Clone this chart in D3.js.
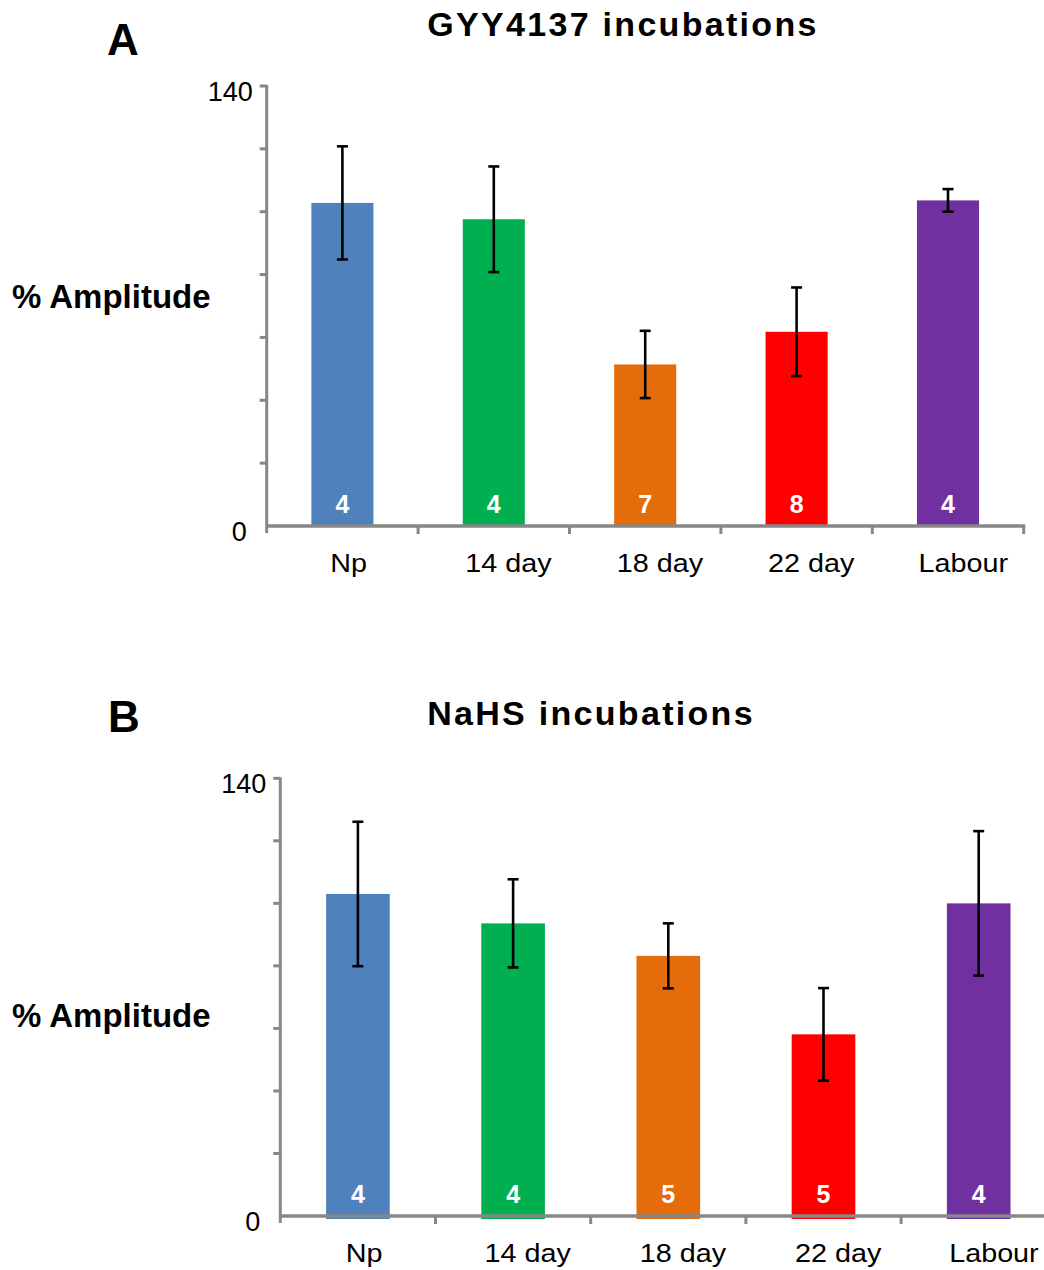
<!DOCTYPE html>
<html>
<head>
<meta charset="utf-8">
<script src="https://cdn.jsdelivr.net/npm/d3@7"></script>
<style>
  html, body { margin: 0; padding: 0; background: #fff; }
  svg { display: block; font-family: "Liberation Sans", Arial, sans-serif; }
</style>
</head>
<body>
<svg id="chart" width="1044" height="1270"></svg>
<script>
// Groups shared by both panels
const categories = ["Np", "14 day", "18 day", "22 day", "Labour"];
const barColors = ["#4F81BD", "#00B050", "#E46C0A", "#FF0000", "#7030A0"];

// GYY4137 incubations: mean % amplitude, error, n
const gyyMean = [102.8, 97.6, 51.4, 61.8, 103.6];
const gyyErr  = [18.0, 16.8, 10.7, 14.1, 3.6];
const gyyN    = [4, 4, 7, 8, 4];

// NaHS incubations: mean % amplitude, error, n
const nahsMean = [103.0, 93.6, 83.2, 58.1, 100.0];
const nahsErr  = [23.1, 14.1, 10.4, 14.8, 23.1];
const nahsN    = [4, 4, 5, 5, 4];

// Axis ticks
const yTickValues = [0, 20, 40, 60, 80, 100, 120, 140];
const yTickLabels = [0, 140];
const yMax = 140;

const svg = d3.select("#chart");
const axisGrey = "#878787";

function drawPanel(p) {
  const g = svg.append("g");
  const x = d3.scaleBand().domain(categories).range([p.x0, p.x1]).paddingInner(0).paddingOuter(0);
  const y = d3.scaleLinear().domain([0, yMax]).range([p.yBottom, p.yTop]);
  const bw = x.bandwidth() * 0.41;
  const rows = categories.map((c, i) => ({ c, v: p.mean[i], e: p.err[i], n: p.n[i], col: barColors[i] }));

  // bars
  g.selectAll("rect.bar").data(rows).join("rect")
    .attr("class", "bar")
    .attr("x", d => x(d.c) + x.bandwidth() / 2 - bw / 2)
    .attr("width", bw)
    .attr("y", d => y(d.v))
    .attr("height", d => y(0) - y(d.v) + p.barSink)
    .attr("fill", d => d.col);

  // y axis line + ticks
  g.append("line")
    .attr("x1", p.x0).attr("x2", p.x0)
    .attr("y1", y(yMax) - 1).attr("y2", y(0) + 7)
    .attr("stroke", axisGrey).attr("stroke-width", 3);
  g.selectAll("line.ytick").data(yTickValues.filter(v => v > 0)).join("line")
    .attr("class", "ytick")
    .attr("x1", p.x0 - 7).attr("x2", p.x0)
    .attr("y1", d => y(d)).attr("y2", d => y(d))
    .attr("stroke", axisGrey).attr("stroke-width", 3);

  // x axis line + category separators
  g.append("line")
    .attr("x1", p.x0).attr("x2", p.x1 + 1.5)
    .attr("y1", y(0)).attr("y2", y(0))
    .attr("stroke", axisGrey).attr("stroke-width", 3.5);
  const seps = categories.map(c => x(c) + x.bandwidth());
  g.selectAll("line.xtick").data(seps).join("line")
    .attr("class", "xtick")
    .attr("x1", d => d).attr("x2", d => d)
    .attr("y1", y(0)).attr("y2", y(0) + 8)
    .attr("stroke", axisGrey).attr("stroke-width", 3);

  // error bars
  const cap = 5.5;
  const eb = g.selectAll("g.err").data(rows).join("g").attr("class", "err")
    .attr("stroke", "#000").attr("stroke-width", 2.6);
  eb.append("line")
    .attr("x1", d => x(d.c) + x.bandwidth() / 2).attr("x2", d => x(d.c) + x.bandwidth() / 2)
    .attr("y1", d => y(d.v + d.e)).attr("y2", d => y(d.v - d.e));
  eb.append("line")
    .attr("x1", d => x(d.c) + x.bandwidth() / 2 - cap).attr("x2", d => x(d.c) + x.bandwidth() / 2 + cap)
    .attr("y1", d => y(d.v + d.e)).attr("y2", d => y(d.v + d.e));
  eb.append("line")
    .attr("x1", d => x(d.c) + x.bandwidth() / 2 - cap).attr("x2", d => x(d.c) + x.bandwidth() / 2 + cap)
    .attr("y1", d => y(d.v - d.e)).attr("y2", d => y(d.v - d.e));

  // n inside each bar
  g.selectAll("text.n").data(rows).join("text")
    .attr("class", "n")
    .attr("x", d => x(d.c) + x.bandwidth() / 2)
    .attr("y", y(0) - 13)
    .attr("text-anchor", "middle")
    .attr("font-size", 25).attr("font-weight", "bold")
    .attr("fill", "#fff")
    .text(d => d.n);

  // y tick labels
  g.selectAll("text.ylab").data(yTickLabels).join("text")
    .attr("class", "ylab")
    .attr("x", d => d === 0 ? p.x0 - 20 : p.x0 - 14)
    .attr("y", d => y(d) + 15)
    .attr("text-anchor", "end")
    .attr("font-size", 27)
    .attr("fill", "#000")
    .text(d => d);

  // category labels (wide-set)
  g.selectAll("text.cat").data(categories).join("text")
    .attr("class", "cat")
    .attr("text-anchor", "middle")
    .attr("font-size", 25)
    .attr("fill", "#000")
    .text(d => d)
    .each(function (d) {
      const len = this.getComputedTextLength() * 1.15;
      const cx = x(d) + x.bandwidth() / 2 + 0.17 * len;
      d3.select(this).attr("transform", `translate(${cx},${y(0) + 46}) scale(1.15,1)`);
    });

  // y axis title
  g.append("text")
    .attr("x", 12).attr("y", p.yTitleBase)
    .attr("font-size", 33).attr("font-weight", "bold")
    .text("% Amplitude");

  // panel letter and title
  g.append("text")
    .attr("x", p.letterX).attr("y", p.letterBase)
    .attr("font-size", 44).attr("font-weight", "bold")
    .text(p.letter);
  g.append("text")
    .attr("x", p.titleX).attr("y", p.titleBase)
    .attr("font-size", 34).attr("font-weight", "bold")
    .attr("letter-spacing", 2.3)
    .attr("text-anchor", "middle")
    .text(p.title);
}

drawPanel({
  letter: "A", title: "GYY4137 incubations",
  mean: gyyMean, err: gyyErr, n: gyyN,
  x0: 266.7, x1: 1023.7, yTop: 86, yBottom: 526, barSink: 0,
  yTitleBase: 308, letterX: 107, letterBase: 55, titleX: 623, titleBase: 36
});

drawPanel({
  letter: "B", title: "NaHS incubations",
  mean: nahsMean, err: nahsErr, n: nahsN,
  x0: 280.3, x1: 1056.3, yTop: 778.3, yBottom: 1216, barSink: 3,
  yTitleBase: 1027, letterX: 108, letterBase: 732, titleX: 591, titleBase: 725
});
</script>
</body>
</html>
